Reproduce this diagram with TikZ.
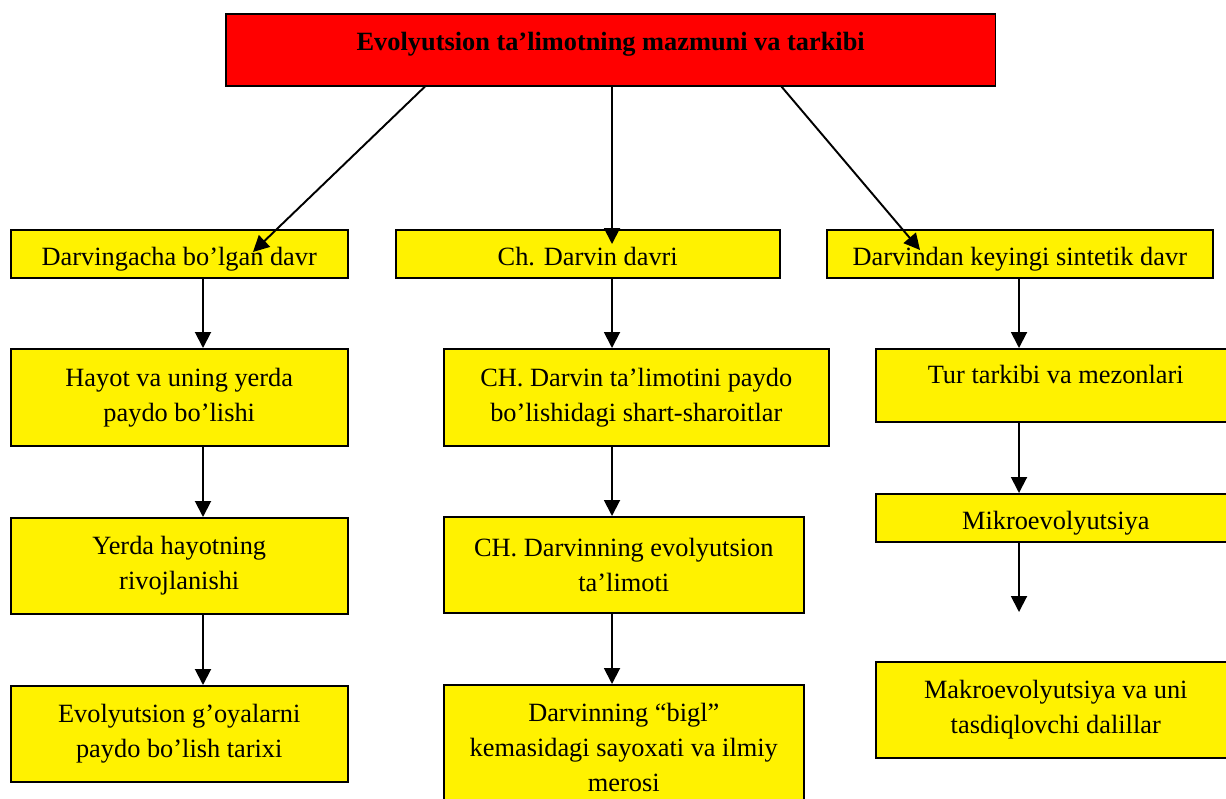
\documentclass[tikz,border=0pt]{standalone}
\usepackage{fontspec}
\setmainfont{Liberation Serif}
\usetikzlibrary{arrows.meta}

\tikzset{
  box/.style={draw, line width=0.9pt, fill=yellow, anchor=north west, inner sep=0pt, align=center, font=\fontsize{15}{20}\selectfont},
  onerow/.style={box, minimum height=0.96cm, text height=16pt, text depth=3pt},
  arr/.style={line width=1.1pt, -{Triangle[length=0.32cm,width=0.32cm]}}
}

\begin{document}
\begin{tikzpicture}[x=0.02cm, y=-0.02cm]
\clip (0,0) rectangle (1226,798);
% title
\node[box, fill=red, minimum width=15.4cm, minimum height=1.44cm, text height=10pt, text depth=9pt, font=\fontsize{15}{20}\selectfont\bfseries] (title) at (225,13) {Evolyutsion ta’limotning mazmuni va tarkibi};

% first row
\node[onerow, minimum width=6.74cm] (a1) at (10,229) {Darvingacha bo’lgan davr};
\node[onerow, minimum width=7.68cm] (b1) at (395,229) {Ch. Darvin davri};
\node[onerow, minimum width=7.72cm] (c1) at (826,229) {Darvindan keyingi sintetik davr};

% column A
\node[box, minimum width=6.74cm, minimum height=1.94cm] (a2) at (10,348) {Hayot va uning yerda\\paydo bo’lishi};
\node[box, minimum width=6.74cm, minimum height=1.92cm] (a3) at (10,517) {Yerda hayotning\\rivojlanishi};
\node[box, minimum width=6.74cm, minimum height=1.92cm] (a4) at (10,685) {Evolyutsion g’oyalarni\\paydo bo’lish tarixi};

% column B
\node[box, minimum width=7.7cm, minimum height=1.94cm] (b2) at (443,348) {CH. Darvin ta’limotini paydo\\bo’lishidagi shart-sharoitlar};
\node[box, minimum width=7.2cm, minimum height=1.92cm] (b3) at (443,516) {CH. Darvinning evolyutsion\\ta’limoti};
\node[box, minimum width=7.2cm, minimum height=2.52cm] (b4) at (443,684) {Darvinning “bigl”\\kemasidagi sayoxati va ilmiy\\merosi};

% column C
\node[box, minimum width=7.2cm, minimum height=1.46cm, text height=10pt, text depth=12pt] (c2) at (875,348) {Tur tarkibi va mezonlari};
\node[onerow, minimum width=7.2cm] (c3) at (875,493) {Mikroevolyutsiya};
\node[box, minimum width=7.2cm, minimum height=1.92cm] (c4) at (875,661) {Makroevolyutsiya va uni\\tasdiqlovchi dalillar};

% arrows
\coordinate (colA) at (203,0);
\coordinate (colB) at (612,0);
\coordinate (colC) at (1019,0);
\coordinate (tipA) at (253,252);
\coordinate (tipB) at (612,244);
\coordinate (tipC) at (920,250);
\coordinate (tipM) at (1019,612);

\draw[arr] ([xshift=4cm]title.south west) -- (tipA);
\draw[arr] (colB |- title.south) -- (tipB);
\draw[arr] ([xshift=-4.3cm]title.south east) -- (tipC);

\foreach \u/\v in {a1/a2, a2/a3, a3/a4} \draw[arr] (colA |- \u.south) -- (colA |- \v.north);
\foreach \u/\v in {b1/b2, b2/b3, b3/b4} \draw[arr] (colB |- \u.south) -- (colB |- \v.north);
\foreach \u/\v in {c1/c2, c2/c3} \draw[arr] (colC |- \u.south) -- (colC |- \v.north);
\draw[arr] (colC |- c3.south) -- (tipM);

\end{tikzpicture}
\end{document}
